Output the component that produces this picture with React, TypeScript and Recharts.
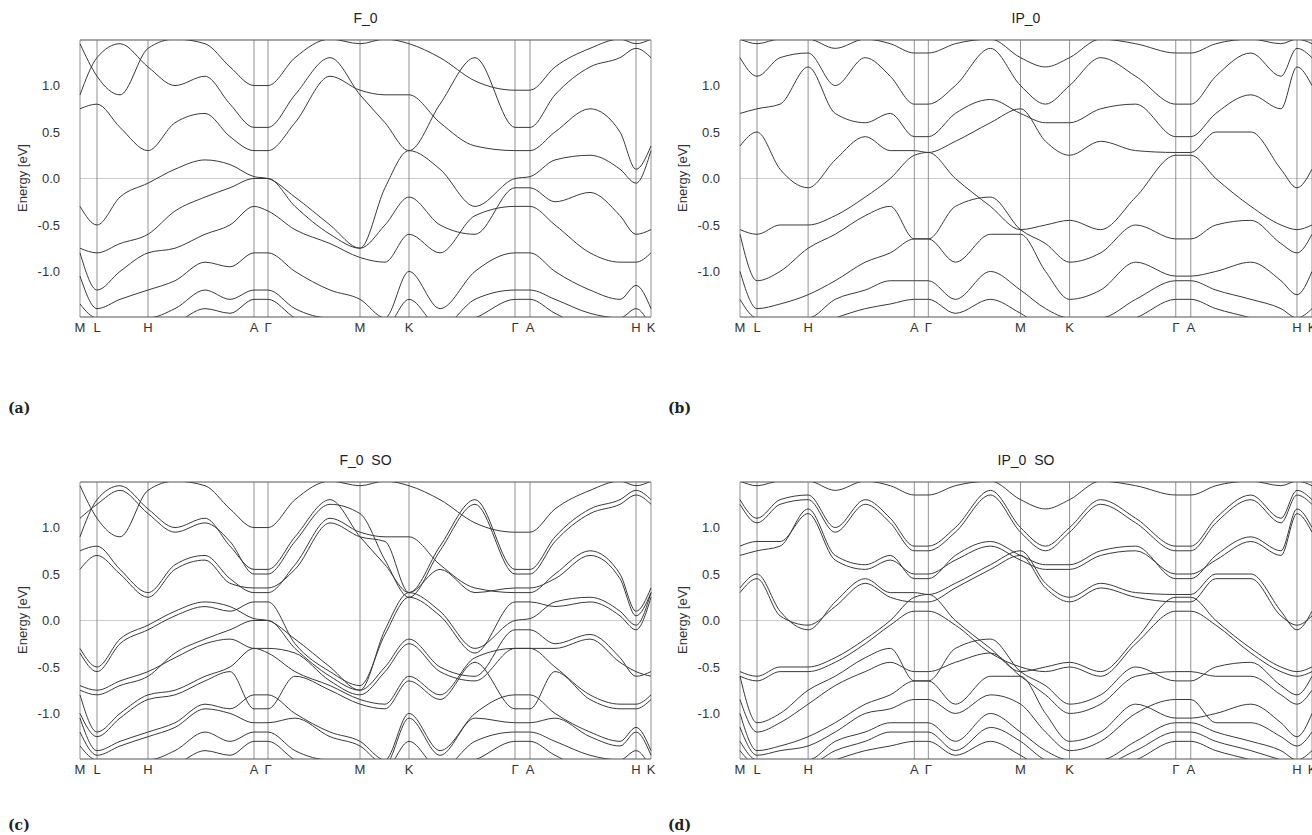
import { LineChart, Line, XAxis, YAxis, ReferenceLine } from 'recharts'

// k-path sample positions (distance along path) and high-symmetry points
const kGrid = [0, 17, 40, 68, 95, 125, 150, 174, 188, 215, 250, 280, 305, 329, 360, 395, 435, 450, 475, 510, 540, 556, 571]
const kTicks = [0, 17, 68, 174, 188, 280, 329, 435, 450, 556, 571]
const kLabels = ['M', 'L', 'H', 'A', 'Γ', 'M', 'K', 'Γ', 'A', 'H', 'K']
const eTicks = [-1.0, -0.5, 0.0, 0.5, 1.0]

// F_0 bands
const f0Bands = [
  [1.45, 1.1, 0.9, 1.4, 1.5, 1.45, 1.2, 1.0, 1.0, 1.3, 1.5, 1.45, 1.5, 1.45, 1.3, 1.05, 0.95, 0.95, 1.2, 1.4, 1.5, 1.45, 1.5],
  [0.9, 1.3, 1.45, 1.2, 1.0, 1.1, 0.8, 0.55, 0.55, 0.9, 1.3, 0.9, 0.6, 0.3, 0.8, 1.3, 0.55, 0.55, 0.9, 1.2, 1.3, 1.4, 1.3],
  [0.75, 0.8, 0.55, 0.3, 0.6, 0.7, 0.45, 0.3, 0.3, 0.6, 1.1, 0.95, 0.9, 0.9, 0.6, 0.35, 0.3, 0.3, 0.5, 0.75, 0.5, 0.1, 0.35],
  [-0.3, -0.5, -0.2, -0.05, 0.1, 0.2, 0.15, 0.02, 0.0, -0.2, -0.5, -0.75, -0.1, 0.3, 0.1, -0.3, 0.0, 0.02, 0.2, 0.25, 0.1, -0.05, 0.3],
  [-0.75, -0.8, -0.7, -0.6, -0.35, -0.2, -0.1, 0.0, 0.0, -0.3, -0.6, -0.75, -0.5, -0.2, -0.5, -0.6, -0.1, -0.1, -0.25, -0.15, -0.4, -0.6, -0.55],
  [-0.8, -1.2, -1.0, -0.8, -0.75, -0.6, -0.5, -0.3, -0.35, -0.55, -0.7, -0.85, -0.9, -0.6, -0.8, -0.4, -0.3, -0.3, -0.5, -0.8, -0.9, -0.9, -0.8],
  [-1.05, -1.4, -1.3, -1.2, -1.1, -0.9, -0.95, -0.8, -0.8, -1.0, -1.2, -1.3, -1.5, -1.0, -1.4, -1.0, -0.8, -0.8, -1.0, -1.2, -1.3, -1.15, -1.4],
  [-1.35, -1.5, -1.5, -1.5, -1.4, -1.2, -1.3, -1.2, -1.2, -1.4, -1.5, -1.5, -1.6, -1.3, -1.6, -1.3, -1.2, -1.2, -1.3, -1.45, -1.5, -1.4, -1.6],
  [-1.5, -1.6, -1.6, -1.6, -1.55, -1.4, -1.45, -1.3, -1.3, -1.5, -1.6, -1.6, -1.6, -1.5, -1.6, -1.5, -1.3, -1.3, -1.45, -1.6, -1.6, -1.55, -1.6],
]

// IP_0 bands
const ip0Bands = [
  [1.5, 1.45, 1.5, 1.5, 1.4, 1.5, 1.45, 1.35, 1.35, 1.45, 1.5, 1.3, 1.2, 1.3, 1.5, 1.45, 1.35, 1.35, 1.45, 1.5, 1.45, 1.5, 1.45],
  [1.3, 1.1, 1.3, 1.35, 1.0, 1.3, 1.1, 0.8, 0.8, 1.0, 1.4, 1.0, 0.8, 1.0, 1.3, 1.1, 0.8, 0.8, 1.1, 1.35, 1.1, 1.4, 1.3],
  [0.7, 0.75, 0.8, 1.2, 0.7, 0.6, 0.7, 0.45, 0.45, 0.7, 0.85, 0.7, 0.6, 0.6, 0.75, 0.8, 0.45, 0.45, 0.7, 0.9, 0.75, 1.2, 1.0],
  [0.35, 0.5, 0.1, -0.1, 0.2, 0.45, 0.3, 0.3, 0.28, 0.4, 0.6, 0.75, 0.4, 0.25, 0.4, 0.3, 0.28, 0.28, 0.5, 0.5, 0.1, -0.1, 0.1],
  [-0.55, -0.6, -0.5, -0.5, -0.4, -0.2, 0.0, 0.25, 0.28, 0.0, -0.3, -0.55, -0.5, -0.45, -0.55, -0.2, 0.25, 0.25, 0.0, -0.3, -0.5, -0.55, -0.5],
  [-0.6, -1.1, -1.0, -0.75, -0.6, -0.4, -0.3, -0.65, -0.65, -0.3, -0.2, -0.55, -0.7, -0.9, -0.8, -0.5, -0.65, -0.65, -0.5, -0.45, -0.7, -0.8, -0.6],
  [-1.0, -1.4, -1.35, -1.25, -1.1, -0.9, -0.8, -0.65, -0.65, -0.9, -0.6, -0.6, -1.0, -1.3, -1.2, -0.9, -1.05, -1.05, -1.0, -0.9, -1.1, -1.25, -1.0],
  [-1.3, -1.5, -1.5, -1.5, -1.3, -1.2, -1.1, -1.1, -1.1, -1.3, -1.0, -1.2, -1.4, -1.5, -1.5, -1.3, -1.1, -1.1, -1.2, -1.3, -1.4, -1.5, -1.4],
  [-1.5, -1.6, -1.6, -1.6, -1.5, -1.4, -1.35, -1.3, -1.3, -1.45, -1.3, -1.45, -1.6, -1.6, -1.6, -1.5, -1.3, -1.3, -1.4, -1.5, -1.6, -1.6, -1.6],
]

// spin-orbit split partners
const f0SoExtra = [
  [1.1, 1.25, 1.4, 1.15, 0.95, 1.05, 0.85, 0.5, 0.5, 0.85, 1.25, 1.15, 0.65, 0.25, 0.75, 1.25, 0.5, 0.5, 0.85, 1.15, 1.25, 1.35, 1.25],
  [0.55, 0.7, 0.5, 0.25, 0.55, 0.65, 0.4, 0.35, 0.35, 0.55, 1.05, 0.9, 0.85, 0.3, 0.55, 0.3, 0.35, 0.35, 0.45, 0.7, 0.45, 0.05, 0.3],
  [-0.35, -0.55, -0.25, -0.1, 0.05, 0.15, 0.1, 0.2, 0.2, -0.25, -0.55, -0.7, -0.15, 0.25, 0.05, -0.35, 0.2, 0.2, 0.15, 0.2, 0.05, -0.1, 0.25],
  [-0.7, -0.75, -0.65, -0.55, -0.4, -0.25, -0.2, -0.3, -0.3, -0.35, -0.65, -0.8, -0.55, -0.25, -0.55, -0.65, -0.3, -0.3, -0.3, -0.2, -0.45, -0.55, -0.6],
  [-1.0, -1.25, -1.05, -0.85, -0.8, -0.65, -0.55, -0.95, -0.95, -0.6, -0.75, -0.9, -0.95, -0.65, -0.85, -0.45, -0.95, -0.95, -0.55, -0.85, -0.95, -0.95, -0.85],
  [-1.2, -1.45, -1.35, -1.25, -1.15, -0.95, -1.0, -1.1, -1.1, -1.05, -1.25, -1.35, -1.55, -1.05, -1.45, -1.05, -1.1, -1.1, -1.05, -1.25, -1.35, -1.2, -1.45],
]
const ip0SoExtra = [
  [1.25, 1.05, 1.25, 1.3, 0.95, 1.25, 1.05, 0.75, 0.75, 0.95, 1.35, 0.95, 0.75, 0.95, 1.25, 1.05, 0.75, 0.75, 1.05, 1.3, 1.05, 1.35, 1.25],
  [0.8, 0.85, 0.85, 1.15, 0.65, 0.55, 0.65, 0.5, 0.5, 0.65, 0.8, 0.65, 0.55, 0.55, 0.7, 0.75, 0.5, 0.5, 0.65, 0.85, 0.7, 1.15, 0.95],
  [0.3, 0.45, 0.05, -0.05, 0.15, 0.4, 0.25, 0.2, 0.2, 0.35, 0.55, 0.7, 0.35, 0.2, 0.35, 0.25, 0.2, 0.2, 0.45, 0.45, 0.05, -0.05, 0.05],
  [-0.6, -0.65, -0.55, -0.55, -0.45, -0.25, -0.05, 0.1, 0.1, -0.05, -0.35, -0.5, -0.55, -0.5, -0.6, -0.25, 0.1, 0.1, -0.05, -0.35, -0.55, -0.6, -0.55],
  [-0.85, -1.2, -1.1, -0.9, -0.7, -0.55, -0.45, -0.55, -0.55, -0.45, -0.35, -0.6, -0.8, -1.0, -0.9, -0.6, -0.55, -0.55, -0.6, -0.6, -0.8, -0.9, -0.75],
  [-1.15, -1.45, -1.4, -1.35, -1.2, -1.0, -0.95, -0.85, -0.85, -1.0, -0.8, -0.9, -1.2, -1.4, -1.3, -1.0, -0.85, -0.85, -1.1, -1.1, -1.25, -1.35, -1.2],
  [-1.4, -1.55, -1.55, -1.55, -1.4, -1.3, -1.2, -1.2, -1.2, -1.4, -1.15, -1.3, -1.5, -1.55, -1.55, -1.4, -1.2, -1.2, -1.3, -1.4, -1.5, -1.55, -1.5],
]

const font = '"Liberation Sans", Arial, sans-serif'
const yMin = -1.49
const yMax = 1.49

function Panel({ title, bands, left, top, width }: { title: string; bands: number[][]; left: number; top: number; width: number }) {
  const data = kGrid.map((k, i) => {
    const row: Record<string, number> = { k }
    bands.forEach((b, j) => (row['b' + j] = b[i]))
    return row
  })
  const tick = { fontFamily: font, fontSize: 13, fill: '#333' }
  return (
    <div style={{ position: 'absolute', left, top }}>
      <div style={{ position: 'absolute', left: 80, width: width - 80 - (width > 655 ? 9 : 0), top: 10, textAlign: 'center', fontFamily: font, fontSize: 14, color: '#222', whiteSpace: 'pre' }}>
        {title}
      </div>
      <div style={{ position: 'absolute', left: 14, top: 178, transform: 'translate(-50%,-50%) rotate(-90deg)', fontFamily: font, fontSize: 13, color: '#333', whiteSpace: 'nowrap', marginLeft: 8 }}>
        Energy [eV]
      </div>
      <LineChart width={width} height={340} data={data} margin={{ top: 40, right: width > 655 ? 9 : 0, bottom: 3, left: 30 }}>
        <XAxis
          type="number"
          dataKey="k"
          domain={[0, 571]}
          ticks={kTicks}
          tickFormatter={(v: number) => kLabels[kTicks.indexOf(v)]}
          interval={0}
          tick={tick}
          tickLine={false}
          tickMargin={0}
          height={20}
          axisLine={{ stroke: '#555' }}
        />
        <YAxis
          type="number"
          domain={[yMin, yMax]}
          allowDataOverflow
          ticks={eTicks}
          tickFormatter={(v: number) => v.toFixed(1)}
          tick={tick}
          tickLine={false}
          axisLine={false}
          width={50}
          tickMargin={14}
        />
        <ReferenceLine y={0} stroke="#ccc" />
        <ReferenceLine y={yMax} stroke="#555" />
        {kTicks.map((k, i) => (
          <ReferenceLine key={i} x={k} stroke="#777" strokeWidth={0.8} />
        ))}
        {bands.map((_, j) => (
          <Line key={j} type="monotone" dataKey={'b' + j} stroke="#3a3a3a" strokeWidth={1} dot={false} isAnimationActive={false} />
        ))}
      </LineChart>
    </div>
  )
}

const capStyle = { position: 'absolute' as const, fontFamily: '"DejaVu Serif", serif', fontWeight: 700, fontSize: 14, color: '#222' }

export default function App() {
  return (
    <div style={{ position: 'absolute', left: 0, top: 0, width: 1312, height: 835, background: '#fff', overflow: 'hidden' }}>
      <Panel title="F_0" bands={f0Bands} left={0} top={0} width={660} />
      <Panel title="IP_0" bands={ip0Bands} left={660} top={0} width={652} />
      <Panel title="F_0  SO" bands={[...f0Bands, ...f0SoExtra]} left={0} top={442} width={660} />
      <Panel title="IP_0  SO" bands={[...ip0Bands, ...ip0SoExtra]} left={660} top={442} width={652} />
      <div style={{ ...capStyle, left: 8, top: 400 }}>(a)</div>
      <div style={{ ...capStyle, left: 668, top: 400 }}>(b)</div>
      <div style={{ ...capStyle, left: 8, top: 817 }}>(c)</div>
      <div style={{ ...capStyle, left: 668, top: 817 }}>(d)</div>
    </div>
  )
}
